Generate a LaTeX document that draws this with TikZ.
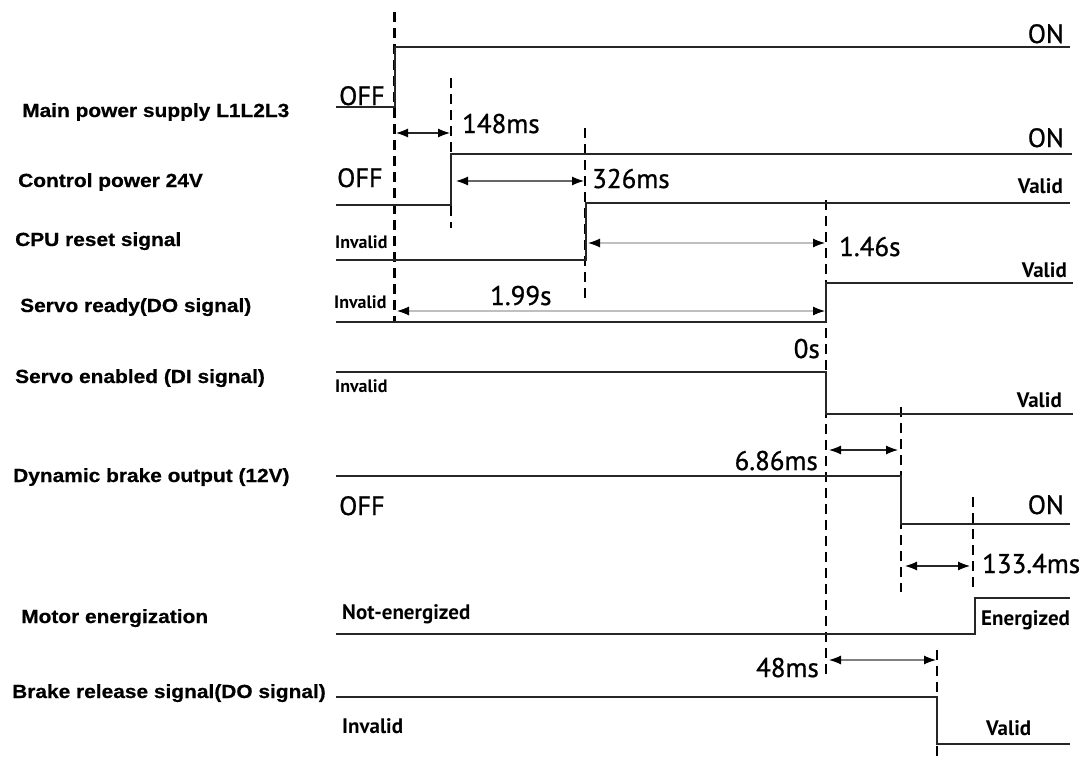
\documentclass[tikz,border=0pt]{standalone}
\usepackage{fontspec}
\usetikzlibrary{arrows.meta}
\newfontfamily\lblfont[FakeStretch=1.1,BoldFeatures={FakeBold=0.6}]{Liberation Sans}
\newfontfamily\ptfont[FakeBold=0.9]{PT Sans}
\newfontfamily\ptbold{PT Sans Bold}
\begin{document}
\begin{tikzpicture}[x=1pt,y=-1pt,
 sig/.style={line width=2.5pt,color=black!85,line join=miter},
 vdash/.style={line width=2.6pt,dash pattern=on 10pt off 6pt},
 dimarr/.style={line width=1.1pt,{Latex[length=12pt,width=9pt,black]}-{Latex[length=12pt,width=9pt,black]}},
 sname/.style={font=\lblfont\bfseries\fontsize{19}{19}\selectfont,anchor=base west,inner sep=0},
 tval/.style={font=\ptfont\fontsize{27}{27}\selectfont,inner sep=0},
 lvl/.style={font=\ptfont\fontsize{26.5}{26.5}\selectfont,inner sep=0},
 smalllvl/.style={font=\ptbold\fontsize{18}{18}\selectfont,inner sep=0},
 state/.style={font=\ptbold\fontsize{21}{21}\selectfont,inner sep=0},
]
\fill[white] (0,0) rectangle (1086,760);
\useasboundingbox (0,0) rectangle (1086,760);

% signal names
\node[sname] (n1) at (22,117) {Main power supply L1L2L3};
\node[sname] (n2) at (18,187) {Control power 24V};
\node[sname] (n3) at (15,246) {CPU reset signal};
\node[sname] (n4) at (20,312) {Servo ready(DO signal)};
\node[sname] (n5) at (15,383) {Servo enabled (DI signal)};
\node[sname] (n6) at (13,482) {Dynamic brake output (12V)};
\node[sname] (n7) at (21,623) {Motor energization};
\node[sname] (n8) at (12,698) {Brake release signal(DO signal)};

% dashed guide lines
\coordinate (a1) at (394.5,12);  \coordinate (a2) at (394.5,322);
\coordinate (b1) at (451,78);    \coordinate (b2) at (451,228);
\coordinate (c1) at (585,128);   \coordinate (c2) at (585,299);
\coordinate (e1) at (826,200);   \coordinate (e2) at (826,676);
\coordinate (f1) at (901,407);   \coordinate (f2) at (901,592);
\coordinate (g1) at (973,497);   \coordinate (g2) at (973,587);
\coordinate (h1) at (937,650);   \coordinate (h2) at (937,760);
\foreach \p in {a,b,c,e,f,g,h} \draw[vdash] (\p1) -- (\p2);

% signals
\draw[sig] (336,107) -- (395,107) -- (395,47) -- (1070,47);
\draw[sig] (336,205) -- (451,205) -- (451,154) -- (1072,154);
\draw[sig] (336,260) -- (586,260) -- (586,203) -- (1070,203);
\draw[sig] (336,322) -- (826,322) -- (826,283) -- (1073,283);
\draw[sig] (336,372) -- (826,372) -- (826,414) -- (1073,414);
\draw[sig] (336,476) -- (901,476) -- (901,524) -- (1070,524);
\draw[sig] (336,634) -- (975,634) -- (975,598) -- (1070,598);
\draw[sig] (336,697) -- (937,697) -- (937,744) -- (1070,744);

% timing arrows
\coordinate (t1a) at (396,133); \coordinate (t1b) at (450,133);
\coordinate (t2a) at (456,181); \coordinate (t2b) at (584,181);
\coordinate (t3a) at (588,243); \coordinate (t3b) at (825,243);
\coordinate (t4a) at (397,311); \coordinate (t4b) at (825,311);
\coordinate (t5a) at (829,450); \coordinate (t5b) at (898,450);
\coordinate (t6a) at (905,566); \coordinate (t6b) at (970,566);
\coordinate (t7a) at (829,660); \coordinate (t7b) at (936,660);
\draw[dimarr,black!85] (t1a) -- (t1b);
\draw[dimarr,black!60] (t2a) -- (t2b);
\draw[dimarr,black!25] (t3a) -- (t3b);
\draw[dimarr,black!25] (t4a) -- (t4b);
\draw[dimarr,black!85] (t5a) -- (t5b);
\draw[dimarr,black!85] (t6a) -- (t6b);
\draw[dimarr,black!50] (t7a) -- (t7b);

% timing values
\node[tval,anchor=base west] (v1) at (462,133) {148ms};
\node[tval,anchor=base west] (v2) at (592,188) {326ms};
\node[tval,anchor=base west] (v3) at (839,256) {1.46s};
\node[tval,anchor=base west] (v4) at (490,305) {1.99s};
\node[tval,anchor=base east] (v5) at (820,358) {0s};
\node[tval,anchor=base east] (v6) at (818,470) {6.86ms};
\node[tval,anchor=base west] (v7) at (982,573) {133.4ms};
\node[tval,anchor=base east] (v8) at (819,677) {48ms};

% level labels
\node[lvl,anchor=base west] (l1) at (339,105) {OFF};
\node[lvl,anchor=base east] (l2) at (1064,43) {ON};
\node[lvl,anchor=base west] (l3) at (337,187) {OFF};
\node[lvl,anchor=base east] (l4) at (1064,147) {ON};
\node[smalllvl,anchor=base west] (l5) at (335,248) {Invalid};
\node[state,anchor=base east] (l6) at (1063,193) {Valid};
\node[smalllvl,anchor=base west] (l7) at (334,308) {Invalid};
\node[state,anchor=base east] (l8) at (1067,277) {Valid};
\node[smalllvl,anchor=base west] (l9) at (335,392) {Invalid};
\node[state,anchor=base east] (l10) at (1062,407) {Valid};
\node[lvl,anchor=base west] (l11) at (339,515) {OFF};
\node[lvl,anchor=base east] (l12) at (1064,514) {ON};
\node[state,anchor=base west] (l13) at (342,619) {Not-energized};
\node[state,anchor=base west] (l14) at (981,625) {Energized};
\node[state,anchor=base west] (l15) at (342,733) {Invalid};
\node[state,anchor=base west] (l16) at (986,735) {Valid};
\end{tikzpicture}
\end{document}
